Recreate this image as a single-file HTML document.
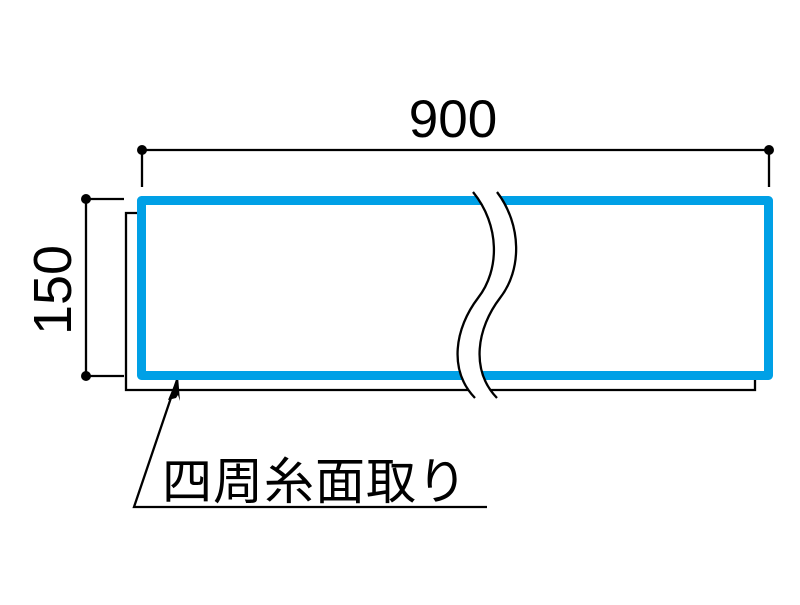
<!DOCTYPE html>
<html><head><meta charset="utf-8"><style>html,body{margin:0;padding:0;background:#fff}</style></head>
<body>
<svg width="800" height="600" xmlns="http://www.w3.org/2000/svg">
<rect width="800" height="600" fill="#fff"/>
<g stroke="#000" stroke-width="2.3" fill="none">
<polyline points="137,213 126,213 126,390 755,390 755,380"/>
<line x1="142" y1="150" x2="769" y2="150"/>
<line x1="142" y1="150" x2="142" y2="187"/>
<line x1="769" y1="150" x2="769" y2="187"/>
<line x1="86" y1="199" x2="86" y2="376"/>
<line x1="86" y1="199" x2="124" y2="199"/>
<line x1="86" y1="376" x2="124" y2="376"/>
<polyline points="487,507 134,507 178,377"/>
</g>
<g fill="#000">
<circle cx="142" cy="150" r="5"/><circle cx="769" cy="150" r="5"/>
<circle cx="86" cy="199" r="5"/><circle cx="86" cy="376" r="5"/>
<polygon points="178,376 168,400 176,398 178,395 180,401"/>
</g>
<rect x="141.5" y="200.5" width="627" height="175" fill="none" stroke="#00a0e6" stroke-width="9" stroke-linejoin="round"/>
<path d="M473,192 C500,225 500,270 478,298 C455,328 448,370 475,398 L497,398 C470,370 477,328 500,298 C522,270 522,225 497,192 Z" fill="#fff"/>
<g stroke="#000" stroke-width="2.3" fill="none">
<path d="M473,192 C500,225 500,270 478,298 C455,328 448,370 475,398"/>
<path d="M497,192 C522,225 522,270 500,298 C477,328 470,370 497,398"/>
</g>
<text x="453" y="137" font-family="Liberation Sans, sans-serif" font-size="53" text-anchor="middle">900</text>
<text transform="translate(71,290) rotate(-90)" font-family="Liberation Sans, sans-serif" font-size="54" text-anchor="middle">150</text>
<text x="162" y="499" font-family="Liberation Sans, 'Noto Sans CJK JP', sans-serif" font-size="50" letter-spacing="1">四周糸面取り</text>
</svg>
</body></html>
